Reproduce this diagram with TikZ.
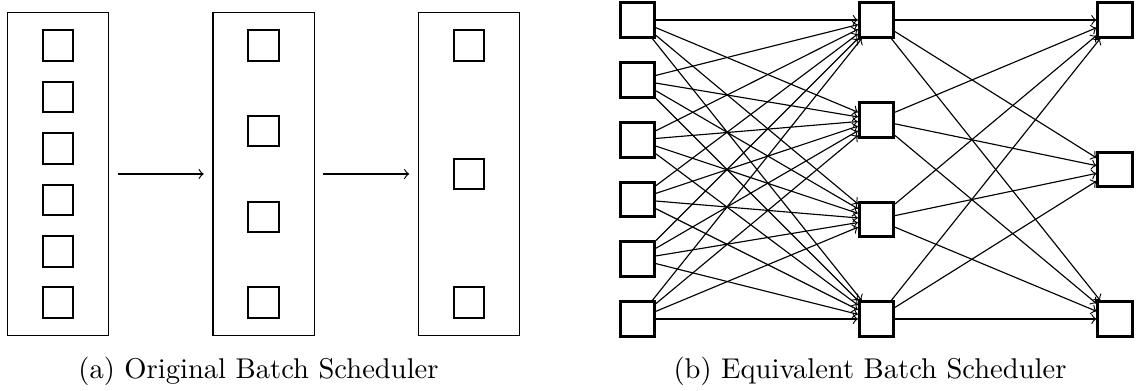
\documentclass[tikz,border=0pt]{standalone}
\begin{document}
\begin{tikzpicture}[x=0.35pt,y=-0.35pt,
  batch/.style={draw,line width=0.4pt,minimum width=35.4pt,minimum height=113.2pt,inner sep=0pt},
  job/.style={draw,line width=0.75pt,minimum size=10.6pt,inner sep=0pt},
  net/.style={draw,line width=1pt,minimum size=12pt,inner sep=0pt},
  flow/.style={->,line width=0.4pt},
  captext/.style={anchor=base,inner sep=0pt,font=\normalsize}]
\useasboundingbox (0,0) rectangle (1139,391);
% (a) original batch scheduler
\node[batch] (R1) at (58,174) {};
\node[batch] (R2) at (263.5,174) {};
\node[batch] (R3) at (469,174) {};
\foreach \k/\y in {1/45.5,2/97,3/148.5,4/200,5/251.5,6/302.5}
  \node[job] (a\k) at (58,\y) {};
\foreach \k/\y in {1/45.5,2/131,3/217,4/302.5}
  \node[job] (b\k) at (263.5,\y) {};
\foreach \k/\y in {1/45.5,2/174,3/302.5}
  \node[job] (c\k) at (469,\y) {};
\draw[flow,shorten <=3pt,shorten >=3pt] (R1) -- (R2);
\draw[flow,shorten <=3pt,shorten >=3pt] (R2) -- (R3);
\node[captext] (capa) at (258.5,378) {(a) Original Batch Scheduler};
% (b) equivalent batch scheduler
\foreach \k/\y in {1/20,2/80,3/140,4/199.5,5/259,6/319}
  \node[net] (L\k) at (637.5,\y) {};
\foreach \k/\y in {1/20,2/120,3/219.5,4/319}
  \node[net] (M\k) at (876.5,\y) {};
\foreach \k/\y in {1/20,2/169.5,3/319}
  \node[net] (N\k) at (1115,\y) {};
\foreach \i in {1,...,6}
  \foreach \j in {1,...,4}
    \draw[flow] (L\i) -- (M\j);
\foreach \i in {1,...,4}
  \foreach \j in {1,...,3}
    \draw[flow] (M\i) -- (N\j);
\node[captext] (capb) at (870,378) {(b) Equivalent Batch Scheduler};
\end{tikzpicture}
\end{document}
